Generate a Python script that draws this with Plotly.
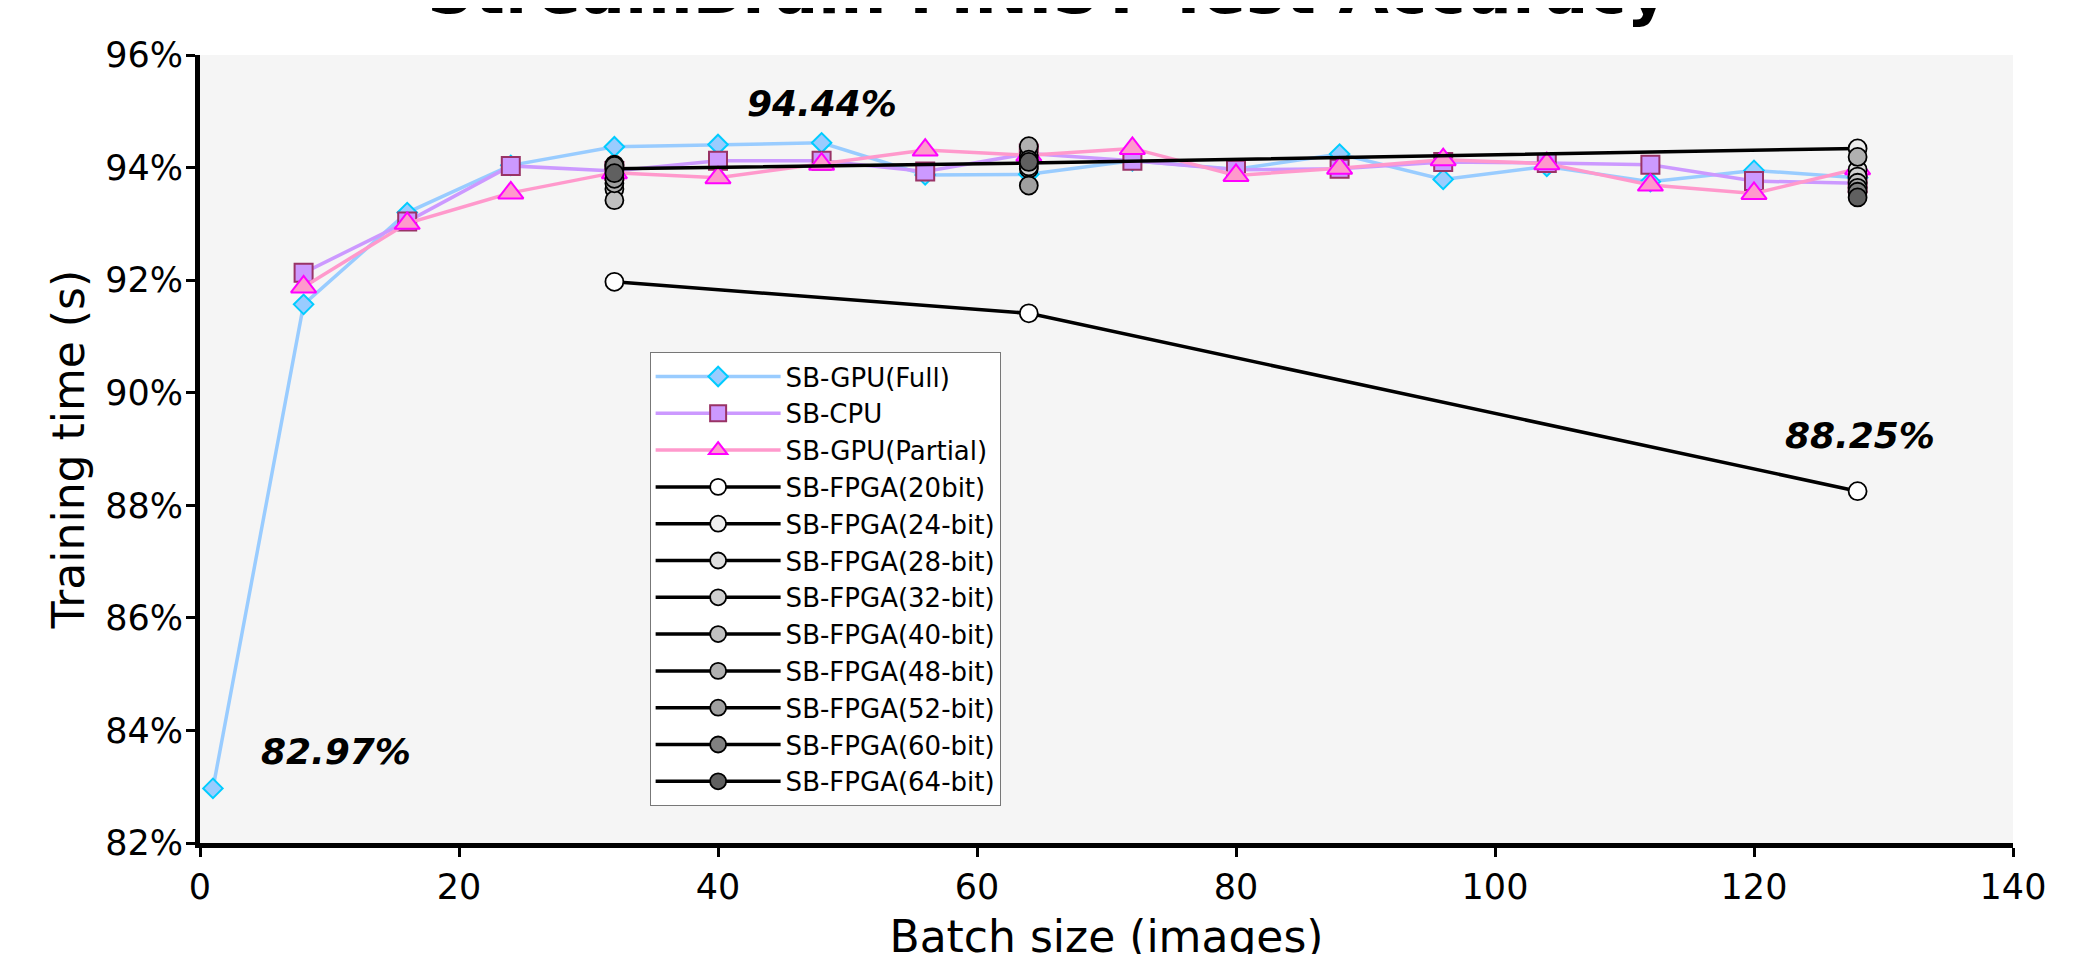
import plotly.graph_objects as go

# ---------------- data ----------------
gpu_full_x = [1, 8, 16, 24, 32, 40, 48, 56, 64, 72, 80, 88, 96, 104, 112, 120, 128]
gpu_full_y = [82.97, 91.57, 93.2, 94.04, 94.37, 94.41, 94.44, 93.87, 93.88, 94.12, 93.97, 94.24, 93.79, 94.02, 93.75, 93.95, 93.82]

cpu_x = [8, 16, 24, 32, 40, 48, 56, 64, 72, 80, 88, 96, 104, 112, 120, 128]
cpu_y = [92.13, 93.04, 94.03, 93.94, 94.12, 94.12, 93.93, 94.25, 94.12, 93.96, 93.98, 94.1, 94.08, 94.05, 93.76, 93.72]

gpu_part_x = [8, 16, 24, 32, 40, 48, 56, 64, 72, 80, 88, 96, 104, 112, 120, 128]
gpu_part_y = [91.88, 93.01, 93.55, 93.91, 93.82, 94.06, 94.31, 94.22, 94.34, 93.86, 93.99, 94.14, 94.07, 93.69, 93.54, 93.98]

fpga_x = [32, 64, 128]
fpga_names = ["SB-FPGA(20bit)", "SB-FPGA(24-bit)", "SB-FPGA(28-bit)", "SB-FPGA(32-bit)",
              "SB-FPGA(40-bit)", "SB-FPGA(48-bit)", "SB-FPGA(52-bit)", "SB-FPGA(60-bit)",
              "SB-FPGA(64-bit)"]
fpga_y = [
    [91.97, 91.41, 88.25],
    [93.98, 94.08, 94.34],
    [94.05, 93.98, 93.96],
    [93.62, 94.02, 93.84],
    [93.42, 94.22, 93.73],
    [93.72, 94.38, 94.19],
    [93.8, 93.68, 93.64],
    [94.03, 94.14, 93.57],
    [93.9, 94.1, 93.47],
]
fpga_connected = [True, True, False, False, False, False, False, False, False]
fpga_fill = ["#ffffff", "#eeeeee", "#dedede", "#d0d0d0", "#c0c0c0", "#b0b0b0",
             "#a0a0a0", "#808080", "#606060"]

annot_text = ["94.44%", "88.25%", "82.97%"]
annot_x = [48, 128.2, 10.5]
annot_y = [95.13, 89.24, 83.62]

FONT = "DejaVu Sans"

fig = go.Figure()

fig.add_trace(go.Scatter(
    x=gpu_full_x, y=gpu_full_y, name="SB-GPU(Full)", mode="lines+markers",
    line=dict(color="#99ccff", width=3.5),
    marker=dict(symbol="diamond", size=15, color="#99ccff", line=dict(color="#00ccff", width=2)),
))
fig.add_trace(go.Scatter(
    x=cpu_x, y=cpu_y, name="SB-CPU", mode="lines+markers",
    line=dict(color="#cc99ff", width=3.5),
    marker=dict(symbol="square", size=18, color="#cc99ff", line=dict(color="#993366", width=2)),
))
fig.add_trace(go.Scatter(
    x=gpu_part_x, y=gpu_part_y, name="SB-GPU(Partial)", mode="lines+markers",
    line=dict(color="#ff99cc", width=3.5),
    marker=dict(symbol="triangle-up", size=22, color="#ff99cc", line=dict(color="#ff00ff", width=2)),
))

for name, ys, conn, fill in zip(fpga_names, fpga_y, fpga_connected, fpga_fill):
    mk = dict(symbol="circle", size=18, color=fill, line=dict(color="#000000", width=1.8))
    fig.add_trace(go.Scatter(
        x=fpga_x, y=ys, name=name, legendgroup=name,
        mode="lines+markers" if conn else "markers",
        line=dict(color="#000000", width=3.5), marker=mk,
        showlegend=conn,
    ))
    if not conn:
        fig.add_trace(go.Scatter(
            x=[None], y=[None], name=name, legendgroup=name, mode="lines+markers",
            line=dict(color="#000000", width=3.5), marker=mk, showlegend=True,
        ))

for t, ax, ay in zip(annot_text, annot_x, annot_y):
    fig.add_annotation(x=ax, y=ay, xref="x", yref="y", text=t, showarrow=False,
                       font=dict(family=FONT, size=36, color="#000000", weight="bold", style="italic"),
                       xanchor="center", yanchor="middle")

fig.add_annotation(x=0.468, y=1.0315, xref="paper", yref="paper",
                   text="StreamBrain MNIST Test Accuracy", showarrow=False,
                   font=dict(family=FONT, size=65, color="#000000", weight="bold"),
                   xanchor="center", yanchor="bottom")

fig.update_layout(
    width=2083, height=954,
    margin=dict(l=192, r=78, t=47, b=119, autoexpand=False),
    paper_bgcolor="#ffffff", plot_bgcolor="#f5f5f5",
    font=dict(family=FONT, size=34, color="#000000"),
    showlegend=True,
    legend=dict(
        x=0.248, y=0.623, xanchor="left", yanchor="top",
        bgcolor="#ffffff", bordercolor="#777777", borderwidth=1,
        font=dict(family=FONT, size=26, color="#000000"),
        tracegroupgap=0, itemsizing="trace", itemwidth=125, traceorder="normal",
    ),
)

fig.update_xaxes(
    range=[0, 140], tickmode="linear", tick0=0, dtick=20,
    showgrid=False, zeroline=False, showline=True, linecolor="#000000", linewidth=5,
    ticks="outside", ticklen=9, tickwidth=3, tickcolor="#000000",
    tickfont=dict(family=FONT, size=35),
    title=dict(text="Batch size (images)", font=dict(family=FONT, size=44), standoff=20),
    automargin=False,
)
fig.update_yaxes(
    range=[82, 96], tickmode="linear", tick0=82, dtick=2, ticksuffix="%",
    showgrid=False, zeroline=False, showline=True, linecolor="#000000", linewidth=5,
    ticks="outside", ticklen=9, tickwidth=3, tickcolor="#000000",
    tickfont=dict(family=FONT, size=35), ticklabelstandoff=-4,
    title=dict(text="Training time (s)", font=dict(family=FONT, size=44), standoff=8),
    automargin=False,
)

fig.write_html("out.html")
